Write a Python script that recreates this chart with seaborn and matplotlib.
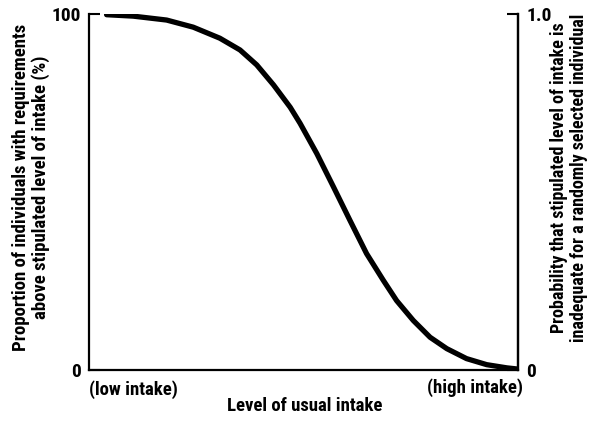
import matplotlib
matplotlib.use("Agg")
import matplotlib.pyplot as plt
import seaborn as sns
import pandas as pd

# Data (x: relative level of usual intake, 0-100 scale)
intake = [4.1, 10.3, 18.1, 24.3, 30.5, 35.2, 39.1, 43.0, 46.9, 49.2,
          53.1, 57.0, 60.8, 64.7, 68.6, 71.7, 75.6, 79.5, 83.4, 88.0,
          92.7, 97.4, 99.7]
proportion = [99.8, 99.4, 98.3, 96.3, 93.2, 89.9, 85.7, 80.1, 73.8, 69.3,
              60.8, 51.4, 42.1, 32.7, 25.2, 19.5, 13.9, 9.2, 6.0, 3.2,
              1.5, 0.6, 0.3]
left_ticks = [0, 100]
left_ticklabels = ["0", "100"]
right_ticks = [0, 1.0]
right_ticklabels = ["0", "1.0"]
x_end_labels = ["(low intake)", "(high intake)"]
xlabel = "Level of usual intake"
ylabel_left = "Proportion of individuals with requirements\nabove stipulated level of intake (%)"
ylabel_right = "Probability that stipulated level of intake is\ninadequate for a randomly selected individual"

sns.set_theme(style="white")
plt.rcParams['font.family'] = ['Liberation Sans Narrow', 'Roboto Condensed',
                               'DejaVu Sans Condensed', 'Roboto', 'DejaVu Sans']
plt.rcParams['font.weight'] = 'bold'

df = pd.DataFrame({"intake": intake, "proportion": proportion})

fig = plt.figure(figsize=(6.0, 4.22), dpi=100)
ax = fig.add_axes([89/600, 1-370/422, (518-89)/600, (370-14)/422])

sns.lineplot(data=df, x="intake", y="proportion", ax=ax, color="black",
             linewidth=3.8, solid_capstyle="round", solid_joinstyle="round")
ax.set_xlim(0, 100)
ax.set_ylim(0, 100)
ax.set_xticks([])
ax.set_yticks(left_ticks)
ax.set_yticklabels(left_ticklabels, fontsize=14, fontweight='bold')
ax.tick_params(axis='y', direction='in', length=8, width=1.5, color='black', pad=6,
               left=True, labelcolor='black')
ax.set_xlabel("")
ax.set_ylabel("")
for s in ["left", "bottom", "right"]:
    ax.spines[s].set_visible(True)
    ax.spines[s].set_color("black")
    ax.spines[s].set_linewidth(1.6)
ax.spines["top"].set_visible(False)

ax2 = ax.twinx()
ax2.set_ylim(0, 1.0)
ax2.set_yticks(right_ticks)
ax2.set_yticklabels(right_ticklabels, fontsize=14, fontweight='bold')
ax2.tick_params(axis='y', direction='in', length=8, width=1.5, color='black', pad=6,
                right=True, labelcolor='black')
ax2.spines["top"].set_visible(False)
ax2.spines["left"].set_visible(False)
ax2.spines["bottom"].set_visible(False)
ax2.spines["right"].set_color("black")
ax2.spines["right"].set_linewidth(1.6)
ax2.grid(False)
ax.grid(False)

ax.text(0.0, -0.055, x_end_labels[0], transform=ax.transAxes, ha='left', va='center',
        fontsize=13.5, fontweight='bold', color='black')
ax.text(1.012, -0.05, x_end_labels[1], transform=ax.transAxes, ha='right', va='center',
        fontsize=13.5, fontweight='bold', color='black')
fig.text(305/600, 1-406/422, xlabel, ha='center', va='center', fontsize=13.5,
         fontweight='bold', color='black')
fig.text(31/600, 1-187/422, ylabel_left, ha='center', va='center', rotation=90,
         fontsize=13.5, fontweight='bold', linespacing=1.15, multialignment='center',
         color='black')
fig.text(569/600, 1-178/422, ylabel_right, ha='center', va='center', rotation=90,
         fontsize=13, fontweight='bold', linespacing=1.08, multialignment='center',
         color='black')

fig.savefig("out.png", dpi=100, facecolor="white")
